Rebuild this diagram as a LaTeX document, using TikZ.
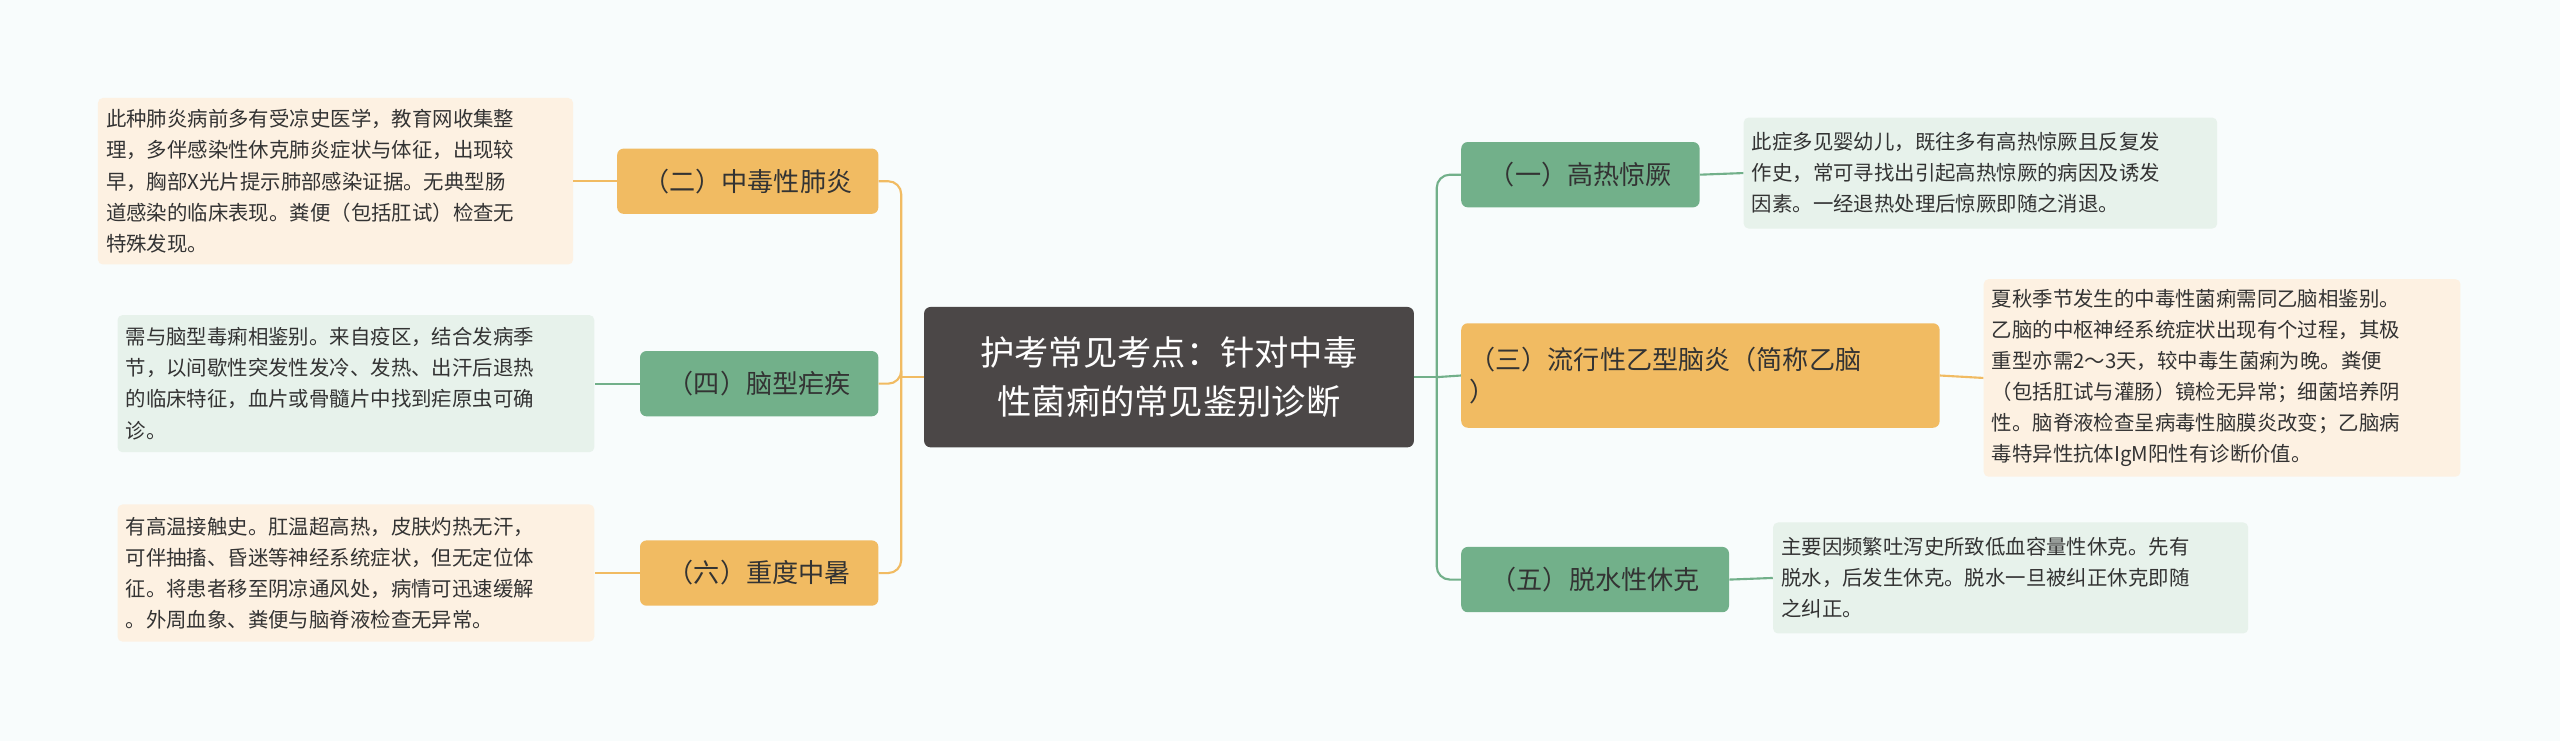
\documentclass[tikz,border=0pt]{standalone}
\usepackage{fontspec}
\setmainfont{Noto Sans CJK SC}
\begin{document}
\begin{tikzpicture}[x=1pt,y=-1pt,
  gbox/.style={draw=none,fill=gb,rounded corners=4pt,text=txt,font=\fontsize{16}{20}\selectfont,inner sep=0pt},
  obox/.style={draw=none,fill=ob,rounded corners=4pt,text=txt,font=\fontsize{16}{20}\selectfont,inner sep=0pt},
  gnote/.style={fill=gn,rounded corners=3pt,text=txt,font=\fontsize{12.5}{19}\selectfont,align=left,inner sep=0pt},
  onote/.style={fill=on,rounded corners=3pt,text=txt,font=\fontsize{12.5}{19}\selectfont,align=left,inner sep=0pt},
  gl/.style={draw=gline,line width=1.3pt,rounded corners=8pt},
  ol/.style={draw=oline,line width=1.3pt,rounded corners=8pt}]
\definecolor{bg}{HTML}{F8FCFC}
\definecolor{gb}{HTML}{72B08A}
\definecolor{ob}{HTML}{F1BB62}
\definecolor{gn}{HTML}{E7F2EB}
\definecolor{on}{HTML}{FDF1E2}
\definecolor{txt}{HTML}{333333}
\definecolor{gline}{HTML}{72B08A}
\definecolor{oline}{HTML}{F1BB62}
\definecolor{cen}{HTML}{4B4747}
\fill[bg] (0,0) rectangle (1568,454);
\useasboundingbox (0,0) rectangle (1568,454);
% center
\node[fill=cen,rounded corners=4pt,text=white,minimum width=300pt,minimum height=86pt,align=center,font=\fontsize{21}{30}\selectfont] (c) at (716,231) {护考常见考点：针对中毒\\性菌痢的常见鉴别诊断};
% right
\node[gbox,minimum width=146pt,minimum height=40pt] (b1) at (968,107) {（一）高热惊厥};
\node[obox,minimum width=293pt,minimum height=64pt,align=left,text width=283pt] (b3) at (1041.5,230) {（三）流行性乙型脑炎（简称乙脑\\）};
\node[gbox,minimum width=164pt,minimum height=40pt] (b5) at (977,355) {（五）脱水性休克};
\node[gnote,minimum width=290pt,minimum height=68pt,text width=280pt] (n1) at (1213,106) {此症多见婴幼儿，既往多有高热惊厥且反复发\\作史，常可寻找出引起高热惊厥的病因及诱发\\因素。一经退热处理后惊厥即随之消退。};
\node[onote,minimum width=292pt,minimum height=121pt,text width=282pt] (n3) at (1361,231.5) {夏秋季节发生的中毒性菌痢需同乙脑相鉴别。\\乙脑的中枢神经系统症状出现有个过程，其极\\重型亦需2～3天，较中毒生菌痢为晚。粪便\\（包括肛试与灌肠）镜检无异常；细菌培养阴\\性。脑脊液检查呈病毒性脑膜炎改变；乙脑病\\毒特异性抗体IgM阳性有诊断价值。};
\node[gnote,minimum width=291pt,minimum height=68pt,text width=281pt] (n5) at (1231.5,354) {主要因频繁吐泻史所致低血容量性休克。先有\\脱水，后发生休克。脱水一旦被纠正休克即随\\之纠正。};
% left
\node[obox,minimum width=160pt,minimum height=40pt] (b2) at (458,111) {（二）中毒性肺炎};
\node[gbox,minimum width=146pt,minimum height=40pt] (b4) at (465,235) {（四）脑型疟疾};
\node[obox,minimum width=146pt,minimum height=40pt] (b6) at (465,351) {（六）重度中暑};
\node[onote,minimum width=291pt,minimum height=102pt,text width=281pt] (n2) at (205.5,111) {此种肺炎病前多有受凉史医学，教育网收集整\\理，多伴感染性休克肺炎症状与体征，出现较\\早，胸部X光片提示肺部感染证据。无典型肠\\道感染的临床表现。粪便（包括肛试）检查无\\特殊发现。};
\node[gnote,minimum width=292pt,minimum height=84pt,text width=282pt] (n4) at (218,235) {需与脑型毒痢相鉴别。来自疫区，结合发病季\\节，以间歇性突发性发冷、发热、出汗后退热\\的临床特征，血片或骨髓片中找到疟原虫可确\\诊。};
\node[onote,minimum width=292pt,minimum height=84pt,text width=282pt] (n6) at (218,351) {有高温接触史。肛温超高热，皮肤灼热无汗，\\可伴抽搐、昏迷等神经系统症状，但无定位体\\征。将患者移至阴凉通风处，病情可迅速缓解\\。外周血象、粪便与脑脊液检查无异常。};
% connectors
\coordinate (rj) at (880,231);
\coordinate (lj) at (552,231);
\draw[gl] (c.east) -- (rj);
\draw[gl] (rj) |- (b1.west);
\draw[gl] (rj) |- (b5.west);
\draw[gl] (rj) -- (b3.west);
\draw[ol] (c.west) -- (lj);
\draw[ol] (lj) |- (b2.east);
\draw[ol] (lj) |- (b6.east);
\draw[ol] (lj) |- (b4.east);
\draw[gl] (b1.east) -- (n1.west);
\draw[ol] (b3.east) -- (n3.west);
\draw[gl] (b5.east) -- (n5.west);
\draw[ol] (b2.west) -- (n2.east);
\draw[gl] (b4.west) -- (n4.east);
\draw[ol] (b6.west) -- (n6.east);
\end{tikzpicture}
\end{document}
